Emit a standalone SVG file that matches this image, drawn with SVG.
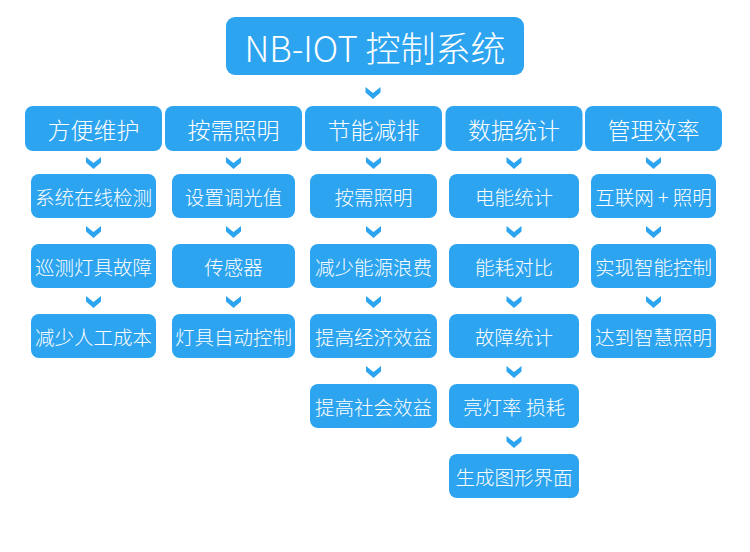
<svg xmlns="http://www.w3.org/2000/svg" width="750" height="552" viewBox="0 0 750 552">
<defs>
<style>
.b{fill:#2DA4EF}
.t{fill:#fff;font-family:"Noto Sans CJK SC","Noto Sans",sans-serif;font-weight:300;text-anchor:middle;dominant-baseline:central}
.t0{font-size:35px}
.t1{font-size:23px}
.t2{font-size:19.5px}
.ch{fill:#2DA4EF}
</style>
<polygon id="chev" points="-7.5,0 0,6 7.5,0 7.5,5.5 0,12 -7.5,5.5"/>
</defs>
<rect width="750" height="552" fill="#fff"/>
<g id="title"><rect class="b" x="226" y="17" width="298" height="58" rx="9"/><text class="t t0" x="375" y="46">NB-IOT 控制系统</text></g>

<g id="c1"><rect class="b" x="25" y="106" width="137" height="45" rx="8"/><text class="t t1" x="93.5" y="128.5">方便维护</text></g>
<g id="c2"><rect class="b" x="165" y="106" width="137" height="45" rx="8"/><text class="t t1" x="233.5" y="128.5">按需照明</text></g>
<g id="c3"><rect class="b" x="305" y="106" width="137" height="45" rx="8"/><text class="t t1" x="373.5" y="128.5">节能减排</text></g>
<g id="c4"><rect class="b" x="445.5" y="106" width="137" height="45" rx="8"/><text class="t t1" x="514" y="128.5">数据统计</text></g>
<g id="c5"><rect class="b" x="585" y="106" width="137" height="45" rx="8"/><text class="t t1" x="653.5" y="128.5">管理效率</text></g>

<g id="c1a"><rect class="b" x="31" y="174" width="125" height="44" rx="8"/><text class="t t2" x="93.5" y="196">系统在线检测</text></g>
<g id="c1b"><rect class="b" x="31" y="244" width="125" height="44" rx="8"/><text class="t t2" x="93.5" y="266">巡测灯具故障</text></g>
<g id="c1c"><rect class="b" x="31" y="314" width="125" height="44" rx="8"/><text class="t t2" x="93.5" y="336">减少人工成本</text></g>

<g id="c2a"><rect class="b" x="172" y="174" width="123" height="44" rx="8"/><text class="t t2" x="233.5" y="196">设置调光值</text></g>
<g id="c2b"><rect class="b" x="172" y="244" width="123" height="44" rx="8"/><text class="t t2" x="233.5" y="266">传感器</text></g>
<g id="c2c"><rect class="b" x="172" y="314" width="123" height="44" rx="8"/><text class="t t2" x="233.5" y="336">灯具自动控制</text></g>

<g id="c3a"><rect class="b" x="310" y="174" width="127" height="44" rx="8"/><text class="t t2" x="373.5" y="196">按需照明</text></g>
<g id="c3b"><rect class="b" x="310" y="244" width="127" height="44" rx="8"/><text class="t t2" x="373.5" y="266">减少能源浪费</text></g>
<g id="c3c"><rect class="b" x="310" y="314" width="127" height="44" rx="8"/><text class="t t2" x="373.5" y="336">提高经济效益</text></g>
<g id="c3d"><rect class="b" x="310" y="384" width="127" height="44" rx="8"/><text class="t t2" x="373.5" y="406">提高社会效益</text></g>

<g id="c4a"><rect class="b" x="449" y="174" width="130" height="44" rx="8"/><text class="t t2" x="514" y="196">电能统计</text></g>
<g id="c4b"><rect class="b" x="449" y="244" width="130" height="44" rx="8"/><text class="t t2" x="514" y="266">能耗对比</text></g>
<g id="c4c"><rect class="b" x="449" y="314" width="130" height="44" rx="8"/><text class="t t2" x="514" y="336">故障统计</text></g>
<g id="c4d"><rect class="b" x="449" y="384" width="130" height="44" rx="8"/><text class="t t2" x="514" y="406">亮灯率 损耗</text></g>
<g id="c4e"><rect class="b" x="449" y="454" width="130" height="44" rx="8"/><text class="t t2" x="514" y="476">生成图形界面</text></g>

<g id="c5a"><rect class="b" x="591" y="174" width="125" height="44" rx="8"/><text class="t t2" x="653.5" y="196">互联网 + 照明</text></g>
<g id="c5b"><rect class="b" x="591" y="244" width="125" height="44" rx="8"/><text class="t t2" x="653.5" y="266">实现智能控制</text></g>
<g id="c5c"><rect class="b" x="591" y="314" width="125" height="44" rx="8"/><text class="t t2" x="653.5" y="336">达到智慧照明</text></g>

<g id="connectors" class="ch">
<use href="#chev" x="373" y="87"/>
<use href="#chev" x="93.5" y="157"/>
<use href="#chev" x="233.5" y="157"/>
<use href="#chev" x="373.5" y="157"/>
<use href="#chev" x="514" y="157"/>
<use href="#chev" x="653.5" y="157"/>
<use href="#chev" x="93.5" y="226"/>
<use href="#chev" x="233.5" y="226"/>
<use href="#chev" x="373.5" y="226"/>
<use href="#chev" x="514" y="226"/>
<use href="#chev" x="653.5" y="226"/>
<use href="#chev" x="93.5" y="296"/>
<use href="#chev" x="233.5" y="296"/>
<use href="#chev" x="373.5" y="296"/>
<use href="#chev" x="514" y="296"/>
<use href="#chev" x="653.5" y="296"/>
<use href="#chev" x="373.5" y="366"/>
<use href="#chev" x="514" y="366"/>
<use href="#chev" x="514" y="436"/>
</g>
</svg>
